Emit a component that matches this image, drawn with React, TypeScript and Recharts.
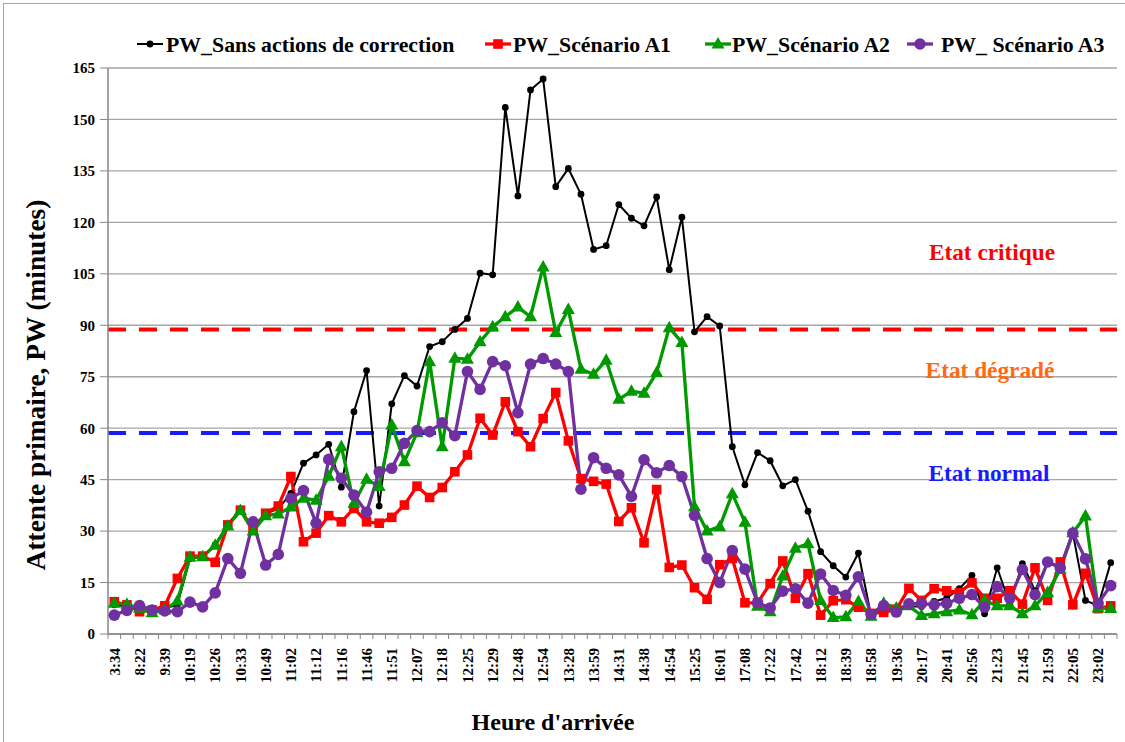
import React from 'react';
import { LineChart, Line, XAxis, YAxis, CartesianGrid, ReferenceLine } from 'recharts';

// Arrival times shown on the axis (every second arrival is labelled)
const arrivalLabels = [
  '3:34', '8:22', '9:39', '10:19', '10:26', '10:33', '10:49', '11:02', '11:12', '11:16',
  '11:46', '11:51', '12:07', '12:18', '12:25', '12:29', '12:48', '12:54', '13:28', '13:59',
  '14:31', '14:38', '14:54', '15:25', '16:01', '17:08', '17:22', '17:42', '18:12', '18:39',
  '18:58', '19:36', '20:17', '20:41', '20:56', '21:23', '21:45', '21:59', '22:05', '23:02',
];

// Primary wait (minutes) per arrival
const pwSansActions = [
  8.5, 8, 7, 6.5, 7.5, 8.5, 22, 22.5, 26, 32, 36, 30.5, 35, 36.5, 41, 49.8,
  52.2, 55.3, 42.8, 64.8, 76.8, 37.3, 67.1, 75.3, 72.3, 83.8, 85.2, 88.8, 92, 105.2, 104.7, 153.5,
  127.7, 158.6, 161.8, 130.4, 135.7, 128.2, 112.1, 113.2, 125.2, 121.2, 119, 127.4, 106.2, 121.5, 88.1, 92.5,
  89.8, 54.6, 43.5, 52.9, 50.5, 43.2, 45, 35.8, 24, 19.9, 16.6, 23.6, 5.4, 7, 6.5, 8,
  8, 9.5, 10.5, 13.2, 17.1, 5.9, 19.3, 8.7, 20.5, 12.6, 21, 19.7, 29.4, 9.8, 8.2, 20.8,
];
const pwScenarioA1 = [
  9.4, 8.5, 6.5, 7, 8.2, 16.2, 22.7, 22.7, 20.9, 31.8, 36.1, 30.8, 35.2, 37.3, 45.9, 26.9,
  29.4, 34.5, 32.7, 36.6, 32.7, 32.3, 34, 37.6, 43.1, 39.8, 42.7, 47.3, 52.2, 62.9, 58, 67.7,
  59, 54.6, 62.8, 70.4, 56.3, 45.3, 44.5, 43.7, 32.8, 36.8, 26.6, 42.1, 19.4, 20.1, 13.5, 10.1,
  20.2, 22, 9.1, 9.1, 14.7, 21.3, 10.4, 17.6, 5.5, 9.7, 10, 7.8, 6, 6.3, 7.2, 13.3,
  9.8, 13.2, 12.6, 12.1, 14.9, 10.4, 10.4, 12.6, 8.7, 19.3, 9.8, 21, 8.5, 17.7, 7.4, 8.2,
];
const pwScenarioA2 = [
  9, 8.7, 7.5, 6.2, 7, 9.6, 22.4, 22.5, 25.9, 31.5, 36, 30, 34.5, 35, 37, 39.6,
  39, 46, 54.6, 38.1, 45.1, 43, 60.9, 50.2, 58.7, 79.4, 54.6, 80.4, 80.1, 85.2, 89.6, 92.5,
  95.3, 92.5, 107, 87.9, 94.6, 77.2, 75.7, 79.8, 68.4, 70.8, 70.2, 76.2, 89.3, 85, 37.1, 30,
  31.3, 40.9, 32.6, 8.1, 6.5, 16.9, 25, 26.3, 9.8, 4.8, 5, 9.5, 5.2, 9, 7.6, 8.2,
  5.4, 5.9, 6.5, 7, 5.6, 9.8, 8.2, 8.2, 5.9, 8.2, 12.1, 18.8, 29.5, 34.4, 7.6, 7.4,
];
const pwScenarioA3 = [
  5.5, 6.9, 8.3, 7, 6.7, 6.5, 9.3, 7.9, 12, 22, 17.7, 32.7, 20.1, 23.2, 39.5, 41.8,
  32.3, 50.9, 45.4, 40.5, 35.5, 47.3, 48.3, 55.6, 59.3, 59, 61.6, 57.8, 76.5, 71.3, 79.4, 78.2,
  64.5, 78.7, 80.3, 78.7, 76.5, 42.2, 51.4, 48.3, 46.4, 40.1, 50.8, 47, 49.1, 45.9, 34.6, 22,
  15, 24.3, 18.9, 9.1, 7.6, 12.5, 13.2, 9, 17.5, 12.7, 11.3, 16.7, 5.7, 8.3, 6.4, 8.8,
  8.9, 8.5, 8.9, 10.4, 11.5, 7.8, 13.8, 10.4, 18.8, 11.5, 21, 19.3, 29.4, 21.9, 8.9, 14.1,
];

const yTicks = [0, 15, 30, 45, 60, 75, 90, 105, 120, 135, 150, 165];
const seuilCritique = 88.8;
const seuilNormal = 58.6;

const data = pwSansActions.map((v, i) => ({
  idx: i,
  sans: v,
  a1: pwScenarioA1[i],
  a2: pwScenarioA2[i],
  a3: pwScenarioA3[i],
}));

const FONT = "'Liberation Serif', 'Times New Roman', serif";
const W = 1125;
const H = 742;
const PLOT_LEFT = 108;
const PLOT_RIGHT = 1117;
const PLOT_TOP = 68;
const PLOT_BOTTOM = 634;
const BAND = (PLOT_RIGHT - PLOT_LEFT) / data.length;
const AXIS_GRAY = '#868686';

const BLACK = '#000000';
const RED = '#ff0000';
const GREEN = '#009a00';
const PURPLE = '#7030a0';

const BlackDot = (p: any) => <circle key={`b${p.index}`} cx={p.cx} cy={p.cy} r={3.4} fill={BLACK} />;
const RedDot = (p: any) => (
  <rect key={`r${p.index}`} x={p.cx - 4.8} y={p.cy - 4.8} width={9.6} height={9.6} fill={RED} />
);
const GreenDot = (p: any) => (
  <path
    key={`g${p.index}`}
    d={`M${p.cx},${p.cy - 7} L${p.cx + 6.5},${p.cy + 4.5} L${p.cx - 6.5},${p.cy + 4.5} Z`}
    fill={GREEN}
  />
);
const PurpleDot = (p: any) => <circle key={`p${p.index}`} cx={p.cx} cy={p.cy} r={5.8} fill={PURPLE} />;

const XTick = (props: any) => {
  const { x, payload } = props;
  const i = payload.value as number;
  const label = i % 2 === 0 ? arrivalLabels[i / 2] : '';
  const ty = PLOT_BOTTOM + 14;
  return (
    <g>
      <line x1={x - BAND / 2} x2={x - BAND / 2} y1={PLOT_BOTTOM} y2={PLOT_BOTTOM + 5} stroke={AXIS_GRAY} />
      {i === data.length - 1 && (
        <line x1={x + BAND / 2} x2={x + BAND / 2} y1={PLOT_BOTTOM} y2={PLOT_BOTTOM + 5} stroke={AXIS_GRAY} />
      )}
      {label && (
        <text
          x={x}
          y={ty}
          dy="0.35em"
          transform={`rotate(-90 ${x} ${ty})`}
          textAnchor="end"
          fontFamily={FONT}
          fontWeight="bold"
          fontSize={15}
          fill="#000"
        >
          {label}
        </text>
      )}
    </g>
  );
};

const legendItems = [
  { x: 137, tx: 166, label: 'PW_Sans actions de correction', color: BLACK, kind: 'small' },
  { x: 485, tx: 513, label: 'PW_Scénario A1', color: RED, kind: 'square' },
  { x: 705, tx: 732, label: 'PW_Scénario A2', color: GREEN, kind: 'triangle' },
  { x: 907, tx: 941, label: 'PW_ Scénario A3', color: PURPLE, kind: 'circle' },
];

const LegendMarker = ({ kind, cx, cy, color }: any) => {
  if (kind === 'small') return <circle cx={cx} cy={cy} r={3.4} fill={color} />;
  if (kind === 'square') return <rect x={cx - 4.8} y={cy - 4.8} width={9.6} height={9.6} fill={color} />;
  if (kind === 'triangle')
    return <path d={`M${cx},${cy - 7} L${cx + 6.5},${cy + 4.5} L${cx - 6.5},${cy + 4.5} Z`} fill={color} />;
  return <circle cx={cx} cy={cy} r={5.8} fill={color} />;
};

export default function App() {
  return (
    <div style={{ position: 'absolute', left: 0, top: 0, width: W, height: H, background: '#fff' }}>
      <LineChart
        width={W}
        height={H}
        data={data}
        margin={{ top: PLOT_TOP, right: W - PLOT_RIGHT, left: 0, bottom: 0 }}
      >
        <CartesianGrid vertical={false} stroke="#a6a6a6" strokeWidth={1.3} />
        <XAxis
          dataKey="idx"
          type="category"
          height={H - PLOT_BOTTOM}
          interval={0}
          padding={{ left: BAND / 2, right: BAND / 2 }}
          axisLine={{ stroke: AXIS_GRAY, strokeWidth: 1.5 }}
          tickLine={false}
          tick={<XTick />}
        />
        <YAxis
          width={PLOT_LEFT}
          domain={[0, 165]}
          ticks={yTicks}
          interval={0}
          axisLine={{ stroke: AXIS_GRAY, strokeWidth: 1.5 }}
          tickLine={{ stroke: AXIS_GRAY }}
          tickSize={8}
          tickMargin={5}
          tick={{ fontFamily: FONT, fontWeight: 'bold', fontSize: 15, fill: '#000' }}
        />
        <ReferenceLine y={seuilCritique} stroke={RED} strokeWidth={4} strokeDasharray="18 13" />
        <ReferenceLine y={seuilNormal} stroke="#1a1aff" strokeWidth={4} strokeDasharray="18 13" />
        <Line dataKey="sans" stroke={BLACK} strokeWidth={2} dot={BlackDot} activeDot={false} isAnimationActive={false} />
        <Line dataKey="a1" stroke={RED} strokeWidth={3.3} dot={RedDot} activeDot={false} isAnimationActive={false} />
        <Line dataKey="a2" stroke={GREEN} strokeWidth={3.3} dot={GreenDot} activeDot={false} isAnimationActive={false} />
        <Line dataKey="a3" stroke={PURPLE} strokeWidth={3.3} dot={PurpleDot} activeDot={false} isAnimationActive={false} />
      </LineChart>

      <svg
        width={W}
        height={H}
        style={{ position: 'absolute', left: 0, top: 0, pointerEvents: 'none' }}
        fontFamily={FONT}
        fontWeight="bold"
      >
        <rect x={3.5} y={3.5} width={W + 10} height={H + 10} fill="none" stroke="#a6a6a6" />
        {legendItems.map((it) => (
          <g key={it.label}>
            <line x1={it.x} x2={it.x + 26} y1={44} y2={44} stroke={it.color} strokeWidth={it.kind === 'small' ? 2 : 3.3} />
            <LegendMarker kind={it.kind} cx={it.x + 13} cy={44} color={it.color} />
            <text x={it.tx} y={44} dy="0.35em" fontSize={21.8} fill="#000">
              {it.label}
            </text>
          </g>
        ))}
        <text
          x={35}
          y={385}
          transform="rotate(-90 35 385)"
          textAnchor="middle"
          dy="0.35em"
          fontSize={27.3}
          fill="#000"
        >
          Attente primaire,  PW (minutes)
        </text>
        <text x={553} y={722} textAnchor="middle" dy="0.35em" fontSize={24} fill="#000">
          Heure d'arrivée
        </text>
        <text x={992} y={252} textAnchor="middle" dy="0.35em" fontSize={23.3} fill="#ff0000">
          Etat critique
        </text>
        <text x={990} y={370} textAnchor="middle" dy="0.35em" fontSize={23.3} fill="#ff6a10">
          Etat dégradé
        </text>
        <text x={989} y={473} textAnchor="middle" dy="0.35em" fontSize={23.3} fill="#1a1aff">
          Etat normal
        </text>
      </svg>
    </div>
  );
}
